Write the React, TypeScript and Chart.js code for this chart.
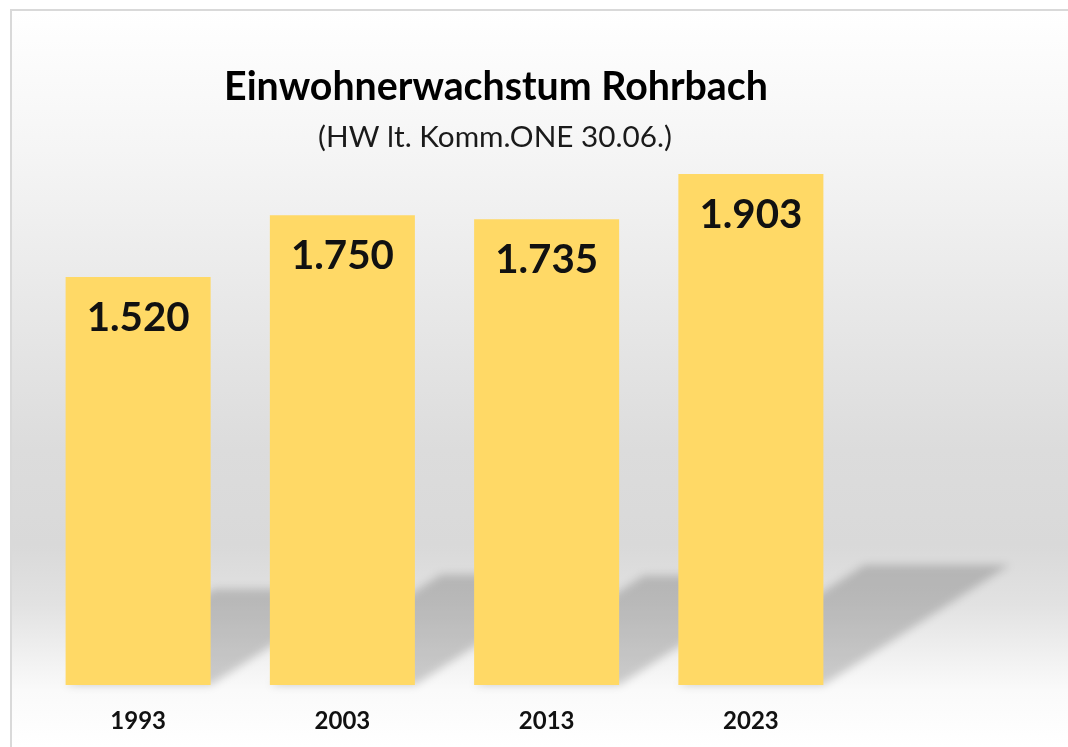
import React, { useEffect, useRef } from 'react';
import { Chart, registerables } from 'chart.js';

Chart.register(...registerables);

const categories = ['1993', '2003', '2013', '2023'];
const population = [1520, 1750, 1735, 1903];
const titleText = 'Einwohnerwachstum Rohrbach';
const subtitleText = '(HW lt. Komm.ONE 30.06.)';
const yMax = 2000;

const W = 1068;
const H = 747;

function formatDE(v: number): string {
  return String(v).replace(/\B(?=(\d{3})+(?!\d))/g, '.');
}

function fitSize(ctx: CanvasRenderingContext2D, text: string, weight: string, family: string, target: number): number {
  ctx.font = `${weight} 100px ${family}`;
  const w = ctx.measureText(text).width;
  return (100 * target) / w;
}

const decorPlugin = {
  id: 'decor',
  beforeDraw(chart: any) {
    const ctx: CanvasRenderingContext2D = chart.ctx;
    ctx.save();
    ctx.fillStyle = '#ffffff';
    ctx.fillRect(0, 0, W, H);
    const g = ctx.createLinearGradient(0, 11, 0, H);
    const stop = (y: number) => Math.min(1, Math.max(0, (y - 11) / (H - 11)));
    g.addColorStop(stop(11), '#ffffff');
    g.addColorStop(stop(150), '#f5f5f5');
    g.addColorStop(stop(450), '#dcdcdc');
    g.addColorStop(stop(545), '#d9d9d9');
    g.addColorStop(stop(605), '#e2e2e2');
    g.addColorStop(stop(690), '#fafafa');
    g.addColorStop(stop(747), '#ffffff');
    ctx.fillStyle = g;
    ctx.fillRect(12, 11, W - 12, H - 11);
    ctx.fillStyle = '#d9d9d9';
    ctx.fillRect(10, 9, W - 10, 2);
    ctx.fillRect(10, 9, 2, H - 9);
    ctx.restore();
  },
  beforeDatasetsDraw(chart: any) {
    const ctx: CanvasRenderingContext2D = chart.ctx;
    const meta = chart.getDatasetMeta(0);
    ctx.save();
    ctx.filter = 'blur(4px)';
    ctx.fillStyle = 'rgba(0,0,0,0.18)';
    meta.data.forEach((bar: any) => {
      const p = bar.getProps(['x', 'y', 'base', 'width'], true);
      const left = p.x - p.width / 2;
      const h = p.base - p.y;
      const sh = 0.235 * h;
      const dx = 1.55 * sh;
      ctx.beginPath();
      ctx.moveTo(left, p.base);
      ctx.lineTo(left + p.width, p.base);
      ctx.lineTo(left + p.width + dx, p.base - sh);
      ctx.lineTo(left + dx, p.base - sh);
      ctx.closePath();
      ctx.fill();
    });
    ctx.restore();
  },
  afterDatasetsDraw(chart: any) {
    const ctx: CanvasRenderingContext2D = chart.ctx;
    const meta = chart.getDatasetMeta(0);
    ctx.save();
    ctx.fillStyle = '#111111';
    ctx.textAlign = 'center';
    ctx.textBaseline = 'middle';
    const labelSize = fitSize(ctx, formatDE(1903), 'bold', 'Lato', 103);
    ctx.font = `bold ${labelSize}px Lato`;
    meta.data.forEach((bar: any, i: number) => {
      const p = bar.getProps(['x', 'y'], true);
      ctx.fillText(formatDE(population[i]), p.x, p.y + 41);
    });

    ctx.textBaseline = 'alphabetic';
    ctx.fillStyle = '#000000';
    const tSize = fitSize(ctx, titleText, 'bold', 'Lato', 544);
    ctx.font = `bold ${tSize}px Lato`;
    ctx.fillText(titleText, 496, 100);
    ctx.fillStyle = '#1a1a1a';
    const sSize = fitSize(ctx, subtitleText, 'normal', 'Lato', 354);
    ctx.font = `normal ${sSize}px Lato`;
    ctx.fillText(subtitleText, 495, 147);
    ctx.restore();
  },
};

export default function App() {
  const ref = useRef<HTMLCanvasElement | null>(null);
  useEffect(() => {
    if (!ref.current) return;
    const chart = new Chart(ref.current, {
      type: 'bar',
      data: {
        labels: categories,
        datasets: [
          {
            data: population,
            backgroundColor: '#FFD966',
            borderWidth: 0,
            barPercentage: 0.71,
            categoryPercentage: 1,
          },
        ],
      },
      options: {
        responsive: false,
        animation: false,
        devicePixelRatio: 1,
        layout: { padding: { left: 36, right: 215, top: 148, bottom: 11 } },
        plugins: { legend: { display: false }, tooltip: { enabled: false }, title: { display: false } },
        scales: {
          x: {
            grid: { display: false, drawTicks: false },
            border: { display: false },
            ticks: { color: '#111111', font: { family: 'Lato', weight: 'bold', size: 24 }, padding: 22 },
            afterFit: (scale: any) => {
              scale.height = 51;
            },
          },
          y: { display: false, min: 0, max: yMax },
        },
      },
      plugins: [decorPlugin],
    });
    return () => chart.destroy();
  }, []);
  return (
    <div style={{ position: 'fixed', left: 0, top: 0, width: W, height: H }}>
      <canvas ref={ref} width={W} height={H} style={{ width: W, height: H, display: 'block' }} />
    </div>
  );
}
